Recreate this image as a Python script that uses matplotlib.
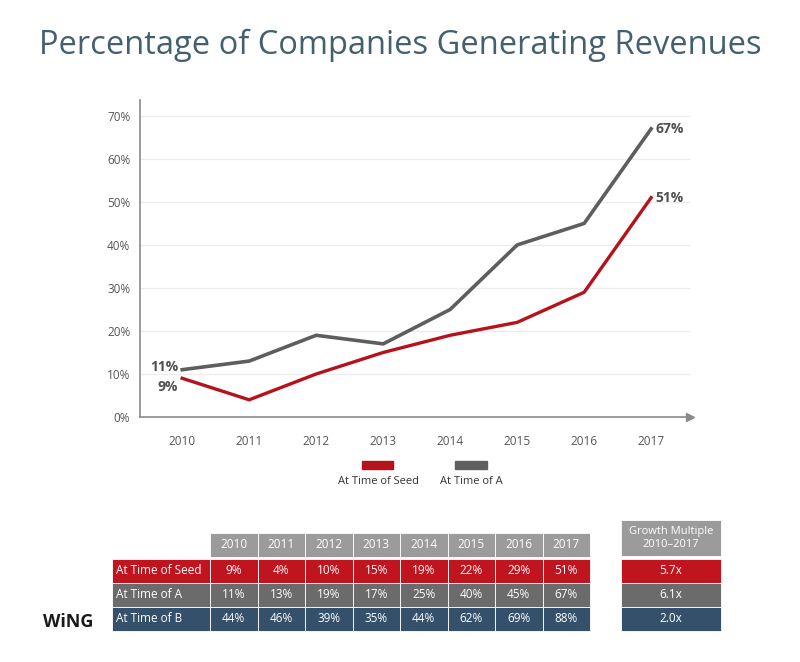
import matplotlib
matplotlib.use("Agg")
import matplotlib.pyplot as plt
from matplotlib.patches import Rectangle

plt.rcParams["font.family"] = ["Open Sans", "DejaVu Sans"]

# data
years = [2010, 2011, 2012, 2013, 2014, 2015, 2016, 2017]
seed = [9, 4, 10, 15, 19, 22, 29, 51]
series_a = [11, 13, 19, 17, 25, 40, 45, 67]
series_b = [44, 46, 39, 35, 44, 62, 69, 88]
yticks = [0, 10, 20, 30, 40, 50, 60, 70]
row_labels = ["At Time of Seed", "At Time of A", "At Time of B"]
growth = ["5.7x", "6.1x", "2.0x"]

RED = "#b5121b"
GREY = "#5e5e5e"
CELL_RED = "#c0151f"
CELL_GREY = "#6b6b6b"
CELL_BLUE = "#35506a"
HEAD = "#9b9b9b"
TXT = "#555555"

fig = plt.figure(figsize=(8, 6.62), dpi=100)
fig.text(0.5, 1 - 45 / 662, "Percentage of Companies Generating Revenues",
         ha="center", va="center", fontsize=23.5, color="#44606e")

ax = fig.add_axes([140 / 800, 1 - 417 / 662, (690 - 140) / 800, (417 - 100) / 662])
ax.plot(years, series_a, color=GREY, lw=2.6, solid_joinstyle="miter", zorder=3)
ax.plot(years, seed, color=RED, lw=2.4, solid_joinstyle="miter", zorder=4)
ax.set_xlim(2009.37, 2017.58)
ax.set_ylim(0, 73.7)
ax.set_xticks(years)
ax.set_xticklabels([str(y) for y in years])
ax.set_yticks(yticks)
ax.set_yticklabels([f"{v}%" for v in yticks])
ax.tick_params(length=0, labelsize=8.5, colors=TXT, pad=7)
ax.tick_params(axis="x", pad=13)
ax.grid(axis="y", color="#ececec", lw=0.9)
ax.set_axisbelow(True)
for s in ["top", "right"]:
    ax.spines[s].set_visible(False)
ax.spines["left"].set_color("#8a8a8a")
ax.spines["bottom"].set_color("#8a8a8a")
ax.spines["left"].set_linewidth(1.2)
ax.spines["bottom"].set_linewidth(1.2)
ax.plot(1, 0, ">", transform=ax.transAxes, color="#8a8a8a", ms=6, clip_on=False)

lab = dict(fontsize=10, fontweight="bold", color="#505050")
ax.annotate(f"{series_a[0]}%", (years[0], series_a[0]), xytext=(-3, 2),
            textcoords="offset points", ha="right", va="center", **lab)
ax.annotate(f"{seed[0]}%", (years[0], seed[0]), xytext=(-3, -6),
            textcoords="offset points", ha="right", va="center", **lab)
ax.annotate(f"{series_a[-1]}%", (years[-1], series_a[-1]), xytext=(3, 0),
            textcoords="offset points", ha="left", va="center", **lab)
ax.annotate(f"{seed[-1]}%", (years[-1], seed[-1]), xytext=(3, 0),
            textcoords="offset points", ha="left", va="center", **lab)

# overlay in pixel coordinates for legend, table and logo
ov = fig.add_axes([0, 0, 1, 1], zorder=-1)
ov.set_xlim(0, 800)
ov.set_ylim(662, 0)
ov.axis("off")

ov.add_patch(Rectangle((362, 461), 31, 8, color=RED))
ov.text(378, 482, "At Time of Seed", ha="center", va="center", fontsize=8,
        color="#333333")
ov.add_patch(Rectangle((455, 461), 32, 8, color=GREY))
ov.text(471, 482, "At Time of A", ha="center", va="center", fontsize=8,
        color="#333333")

x0, cw = 210, 47.5
lx0 = 112
rows_y = [559, 583, 607]
rh = 23.5
row_cols = [CELL_RED, CELL_GREY, CELL_BLUE]
row_vals = [seed, series_a, series_b]
tk = dict(ha="center", va="center", fontsize=8.5, color="white")

for j, y in enumerate(years):
    ov.add_patch(Rectangle((x0 + j * cw, 533), cw, rh, facecolor=HEAD,
                           edgecolor="white", lw=0.6))
    ov.text(x0 + (j + 0.5) * cw, 545, str(y), **tk)

for i, (ry, col, vals) in enumerate(zip(rows_y, row_cols, row_vals)):
    ov.add_patch(Rectangle((lx0, ry), x0 - lx0, rh, facecolor=col,
                           edgecolor="white", lw=0.6))
    ov.text(lx0 + 4, ry + rh / 2, row_labels[i], ha="left", va="center",
            fontsize=8.5, color="white")
    for j, v in enumerate(vals):
        ov.add_patch(Rectangle((x0 + j * cw, ry), cw, rh, facecolor=col,
                               edgecolor="white", lw=0.6))
        ov.text(x0 + (j + 0.5) * cw, ry + rh / 2, f"{v}%", **tk)

gx, gw = 621, 100
ov.add_patch(Rectangle((gx, 520), gw, 36, facecolor=HEAD, edgecolor="white", lw=0.6))
ov.text(gx + gw / 2, 538, "Growth Multiple\n2010–2017", ha="center", va="center",
        fontsize=8, color="white", linespacing=1.3)
for i, (ry, col) in enumerate(zip(rows_y, row_cols)):
    ov.add_patch(Rectangle((gx, ry), gw, rh, facecolor=col, edgecolor="white", lw=0.6))
    ov.text(gx + gw / 2, ry + rh / 2, growth[i], **tk)

ov.text(68, 622, "WiNG", ha="center", va="center", fontsize=13,
        fontweight="bold", color="#1a1a1a")

fig.savefig("out.png", dpi=100)
